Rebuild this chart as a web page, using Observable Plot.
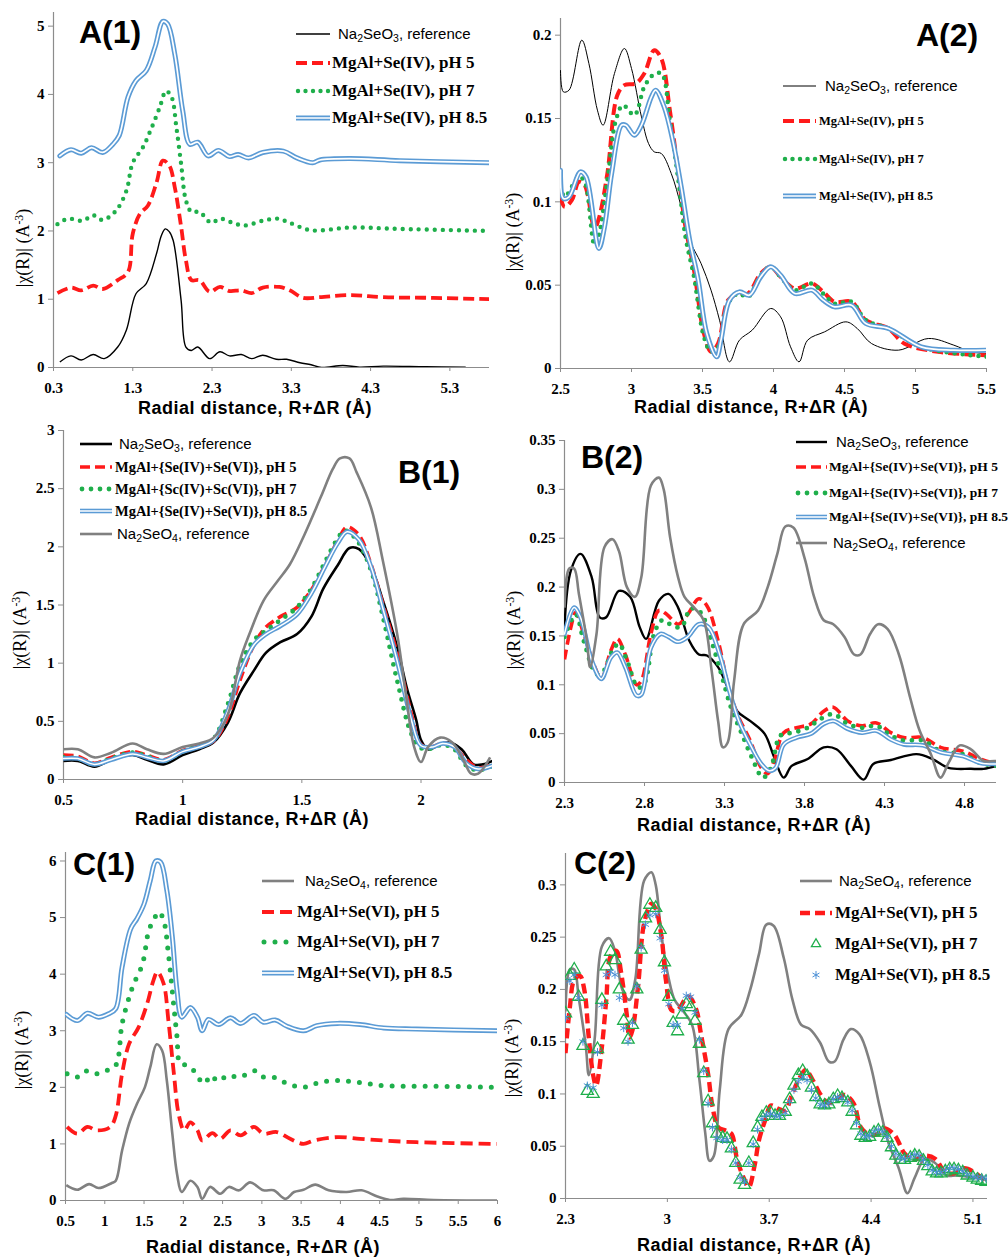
<!DOCTYPE html>
<html><head><meta charset="utf-8">
<script src="https://cdn.jsdelivr.net/npm/d3@7"></script>
<script src="https://cdn.jsdelivr.net/npm/@observablehq/plot@0.6"></script>
<style>
html,body{margin:0;padding:0;background:#fff;}
#root{position:relative;width:1008px;height:1257px;overflow:hidden;background:#fff;}
.panel{position:absolute;}
.panel svg{overflow:visible;}
.panel svg text{font-weight:bold;}
.abs{position:absolute;white-space:nowrap;}
sub{font-size:70%;vertical-align:-0.25em;line-height:0;}
sup{font-size:65%;vertical-align:0.55em;line-height:0;}
</style>
</head><body><div id="root"></div>
<script>
// ---------------- DATA ----------------
// A(1): MgAl+Se(IV), curves offset as drawn
const a1XTicks = [0.3,1.3,2.3,3.3,4.3,5.3];
const a1YTicks = [0,1,2,3,4,5];
const a1Na2SeO3 = [[0.38,0.08],[0.52,0.17],[0.65,0.11],[0.8,0.19],[0.94,0.13],[1.11,0.30],[1.22,0.55],[1.34,1.08],[1.47,1.23],[1.6,1.67],[1.66,1.93],[1.71,2.03],[1.76,1.99],[1.81,1.86],[1.91,0.98],[1.97,0.30],[2.04,0.25],[2.12,0.30],[2.27,0.13],[2.4,0.23],[2.52,0.17],[2.67,0.19],[2.8,0.13],[2.94,0.18],[3.11,0.12],[3.24,0.12],[3.41,0.07],[3.55,0.04],[3.68,0.0],[3.95,0.03],[4.16,0.005],[4.46,0.02],[5.0,0.01],[5.5,0.005]];
const a1pH5 = [[0.35,1.09],[0.52,1.17],[0.65,1.13],[0.8,1.20],[0.92,1.15],[1.11,1.28],[1.24,1.40],[1.30,1.96],[1.39,2.25],[1.49,2.37],[1.6,2.71],[1.68,3.03],[1.76,2.96],[1.83,2.64],[1.91,2.06],[1.97,1.57],[2.04,1.28],[2.14,1.28],[2.27,1.11],[2.4,1.18],[2.52,1.12],[2.67,1.13],[2.8,1.09],[2.94,1.17],[3.15,1.18],[3.28,1.13],[3.45,1.02],[3.66,1.03],[4.04,1.06],[4.46,1.03],[5.09,1.02],[5.8,1.0]];
const a1pH7 = [[0.35,2.1],[0.48,2.18],[0.67,2.15],[0.8,2.23],[0.92,2.16],[1.09,2.30],[1.22,2.59],[1.30,3.0],[1.43,3.23],[1.53,3.49],[1.64,3.81],[1.72,4.05],[1.79,3.96],[1.85,3.52],[1.91,2.98],[1.97,2.45],[2.04,2.28],[2.14,2.28],[2.29,2.12],[2.4,2.18],[2.56,2.12],[2.71,2.08],[2.94,2.15],[3.13,2.18],[3.28,2.12],[3.55,2.01],[4.04,2.05],[4.67,2.03],[5.8,2.0]];
const a1pH85 = [[0.38,3.10],[0.52,3.19],[0.65,3.14],[0.78,3.22],[0.92,3.15],[1.05,3.27],[1.13,3.40],[1.24,3.96],[1.34,4.2],[1.47,4.35],[1.58,4.69],[1.68,5.07],[1.74,5.03],[1.83,4.59],[1.93,3.76],[2.02,3.27],[2.12,3.30],[2.25,3.10],[2.38,3.18],[2.52,3.09],[2.63,3.12],[2.76,3.07],[2.94,3.15],[3.2,3.17],[3.37,3.07],[3.57,3.0],[3.66,3.04],[4.04,3.06],[4.67,3.03],[5.8,3.0]];

// A(2)
const a2XTicks = [2.5,3,3.5,4,4.5,5,5.5];
const a2YTicks = [0,0.05,0.1,0.15,0.2];
const a2Na2SeO3 = [[2.5,0.179],[2.52,0.166],[2.56,0.167],[2.65,0.197],[2.70,0.183],[2.76,0.155],[2.80,0.146],[2.88,0.177],[2.95,0.192],[3.0,0.18],[3.07,0.151],[3.12,0.135],[3.16,0.13],[3.21,0.129],[3.28,0.117],[3.35,0.097],[3.41,0.077],[3.49,0.063],[3.56,0.047],[3.62,0.029],[3.69,0.004],[3.76,0.017],[3.85,0.023],[3.98,0.036],[4.05,0.031],[4.12,0.013],[4.18,0.004],[4.24,0.017],[4.36,0.022],[4.51,0.028],[4.59,0.024],[4.69,0.015],[4.88,0.011],[5.09,0.018],[5.27,0.014],[5.39,0.01],[5.5,0.009]];
const a2pH5 = [[2.5,0.103],[2.53,0.097],[2.58,0.101],[2.63,0.112],[2.67,0.11],[2.74,0.084],[2.77,0.09],[2.83,0.117],[2.9,0.164],[2.95,0.17],[3.03,0.171],[3.09,0.177],[3.16,0.191],[3.21,0.186],[3.27,0.155],[3.33,0.117],[3.38,0.085],[3.44,0.059],[3.51,0.021],[3.56,0.01],[3.61,0.015],[3.68,0.041],[3.75,0.045],[3.82,0.045],[3.91,0.057],[3.98,0.061],[4.05,0.055],[4.15,0.048],[4.27,0.051],[4.35,0.046],[4.43,0.04],[4.55,0.04],[4.65,0.029],[4.81,0.024],[4.92,0.015],[5.16,0.01],[5.5,0.008]];
const a2pH7 = [[2.5,0.109],[2.53,0.103],[2.63,0.115],[2.67,0.112],[2.74,0.074],[2.77,0.08],[2.83,0.113],[2.89,0.149],[2.94,0.158],[3.02,0.152],[3.09,0.169],[3.15,0.176],[3.21,0.177],[3.27,0.149],[3.33,0.113],[3.38,0.079],[3.44,0.055],[3.51,0.019],[3.56,0.01],[3.61,0.013],[3.68,0.039],[3.75,0.045],[3.82,0.043],[3.91,0.056],[3.98,0.061],[4.05,0.055],[4.15,0.047],[4.27,0.051],[4.35,0.045],[4.43,0.039],[4.55,0.04],[4.65,0.029],[4.81,0.024],[5.04,0.013],[5.5,0.007]];
const a2pH85 = [[2.5,0.119],[2.52,0.102],[2.56,0.103],[2.64,0.118],[2.68,0.115],[2.77,0.072],[2.81,0.085],[2.86,0.117],[2.93,0.146],[2.96,0.146],[3.02,0.14],[3.07,0.146],[3.14,0.163],[3.17,0.167],[3.23,0.157],[3.29,0.137],[3.35,0.109],[3.41,0.077],[3.47,0.053],[3.53,0.021],[3.6,0.007],[3.63,0.017],[3.69,0.041],[3.76,0.046],[3.83,0.044],[3.91,0.055],[3.98,0.061],[4.05,0.056],[4.15,0.045],[4.27,0.047],[4.35,0.041],[4.43,0.037],[4.55,0.038],[4.65,0.027],[4.81,0.024],[5.04,0.013],[5.27,0.011],[5.5,0.011]];

// B(1)
const b1XTicks = [0.5,1,1.5,2];
const b1YTicks = [0,0.5,1,1.5,2,2.5,3];
const b1Na2SeO3 = [[0.5,0.16],[0.56,0.16],[0.63,0.11],[0.7,0.17],[0.79,0.21],[0.85,0.17],[0.92,0.13],[1.0,0.21],[1.07,0.26],[1.13,0.32],[1.19,0.49],[1.24,0.74],[1.30,0.94],[1.35,1.09],[1.41,1.18],[1.48,1.25],[1.54,1.40],[1.59,1.64],[1.65,1.84],[1.70,1.99],[1.74,1.98],[1.79,1.83],[1.84,1.54],[1.90,1.14],[1.94,0.79],[1.98,0.51],[2.0,0.34],[2.03,0.26],[2.07,0.29],[2.12,0.32],[2.17,0.26],[2.22,0.13],[2.26,0.13],[2.3,0.16]];
const b1pH5 = [[0.5,0.21],[0.56,0.20],[0.63,0.14],[0.7,0.19],[0.79,0.24],[0.85,0.21],[0.92,0.17],[1.0,0.25],[1.07,0.29],[1.13,0.33],[1.19,0.54],[1.24,0.85],[1.30,1.16],[1.35,1.31],[1.41,1.40],[1.48,1.48],[1.54,1.63],[1.60,1.85],[1.65,2.05],[1.69,2.17],[1.74,2.10],[1.79,1.85],[1.84,1.51],[1.90,1.08],[1.96,0.56],[2.0,0.30],[2.04,0.28],[2.09,0.31],[2.13,0.30],[2.19,0.17],[2.24,0.10],[2.3,0.13]];
const b1pH7 = [[0.5,0.19],[0.56,0.18],[0.63,0.13],[0.7,0.18],[0.79,0.23],[0.85,0.20],[0.92,0.16],[1.0,0.24],[1.07,0.29],[1.13,0.35],[1.19,0.65],[1.24,0.98],[1.30,1.20],[1.35,1.28],[1.41,1.37],[1.48,1.48],[1.54,1.64],[1.60,1.88],[1.65,2.07],[1.68,2.14],[1.73,2.06],[1.79,1.80],[1.84,1.40],[1.90,0.85],[1.96,0.39],[2.0,0.27],[2.05,0.27],[2.09,0.30],[2.14,0.26],[2.19,0.12],[2.24,0.08],[2.3,0.12]];
const b1pH85 = [[0.5,0.18],[0.56,0.18],[0.63,0.13],[0.7,0.17],[0.79,0.22],[0.85,0.19],[0.92,0.16],[1.0,0.24],[1.07,0.28],[1.13,0.34],[1.19,0.59],[1.24,0.91],[1.30,1.16],[1.35,1.25],[1.41,1.32],[1.48,1.42],[1.54,1.60],[1.60,1.84],[1.65,2.03],[1.69,2.13],[1.74,2.06],[1.79,1.83],[1.84,1.47],[1.90,1.02],[1.96,0.51],[2.0,0.29],[2.05,0.28],[2.09,0.31],[2.14,0.28],[2.19,0.14],[2.24,0.09],[2.3,0.12]];
const b1Na2SeO4 = [[0.5,0.26],[0.56,0.26],[0.63,0.19],[0.7,0.23],[0.79,0.31],[0.85,0.26],[0.92,0.22],[1.0,0.28],[1.07,0.31],[1.13,0.36],[1.19,0.56],[1.24,1.02],[1.28,1.25],[1.34,1.54],[1.40,1.71],[1.45,1.85],[1.51,2.10],[1.58,2.43],[1.63,2.67],[1.66,2.76],[1.70,2.76],[1.73,2.64],[1.79,2.34],[1.84,1.88],[1.90,1.25],[1.94,0.68],[1.97,0.29],[2.0,0.15],[2.03,0.28],[2.08,0.36],[2.13,0.32],[2.18,0.16],[2.21,0.05],[2.24,0.05],[2.29,0.19]];

// B(2)
const b2XTicks = [2.3,2.8,3.3,3.8,4.3,4.8];
const b2YTicks = [0,0.05,0.1,0.15,0.2,0.25,0.3,0.35];
const b2Na2SeO3 = [[2.3,0.159],[2.34,0.217],[2.40,0.234],[2.47,0.21],[2.52,0.169],[2.56,0.169],[2.64,0.196],[2.71,0.19],[2.77,0.159],[2.81,0.147],[2.89,0.186],[2.95,0.193],[3.01,0.179],[3.08,0.145],[3.14,0.131],[3.19,0.130],[3.26,0.118],[3.32,0.097],[3.38,0.073],[3.46,0.063],[3.55,0.05],[3.61,0.026],[3.67,0.005],[3.72,0.017],[3.82,0.024],[3.92,0.036],[4.0,0.034],[4.09,0.017],[4.17,0.003],[4.23,0.019],[4.34,0.023],[4.50,0.029],[4.60,0.024],[4.70,0.015],[4.84,0.014],[4.92,0.014],[5.0,0.017]];
const b2pH5 = [[2.3,0.126],[2.34,0.159],[2.37,0.174],[2.42,0.152],[2.49,0.118],[2.53,0.106],[2.59,0.135],[2.63,0.147],[2.68,0.131],[2.75,0.1],[2.78,0.104],[2.84,0.152],[2.89,0.176],[2.94,0.172],[3.01,0.162],[3.07,0.172],[3.14,0.188],[3.19,0.181],[3.26,0.145],[3.32,0.101],[3.38,0.07],[3.46,0.043],[3.53,0.015],[3.57,0.009],[3.61,0.022],[3.67,0.051],[3.75,0.056],[3.84,0.06],[3.92,0.073],[3.98,0.077],[4.07,0.063],[4.16,0.058],[4.25,0.061],[4.34,0.051],[4.42,0.046],[4.54,0.046],[4.65,0.036],[4.79,0.032],[4.90,0.024],[5.0,0.019]];
const b2pH7 = [[2.3,0.149],[2.37,0.172],[2.42,0.145],[2.5,0.111],[2.54,0.113],[2.6,0.135],[2.64,0.142],[2.69,0.125],[2.76,0.097],[2.8,0.102],[2.86,0.152],[2.91,0.166],[2.98,0.16],[3.03,0.159],[3.09,0.178],[3.15,0.174],[3.21,0.149],[3.28,0.111],[3.34,0.077],[3.40,0.053],[3.47,0.026],[3.54,0.005],[3.59,0.015],[3.65,0.048],[3.73,0.051],[3.82,0.056],[3.9,0.065],[3.98,0.07],[4.07,0.06],[4.16,0.056],[4.25,0.058],[4.34,0.048],[4.42,0.043],[4.54,0.043],[4.65,0.032],[4.79,0.029],[4.90,0.02],[5.0,0.017]];
const b2pH85 = [[2.3,0.152],[2.36,0.179],[2.4,0.169],[2.47,0.125],[2.53,0.106],[2.59,0.128],[2.63,0.133],[2.68,0.118],[2.75,0.089],[2.78,0.09],[2.84,0.138],[2.9,0.152],[2.95,0.149],[3.01,0.144],[3.07,0.149],[3.14,0.162],[3.2,0.159],[3.27,0.131],[3.33,0.094],[3.39,0.063],[3.46,0.039],[3.53,0.019],[3.58,0.012],[3.62,0.015],[3.67,0.039],[3.75,0.046],[3.84,0.05],[3.92,0.06],[3.98,0.063],[4.07,0.055],[4.16,0.051],[4.25,0.053],[4.34,0.044],[4.42,0.039],[4.54,0.038],[4.65,0.031],[4.79,0.027],[4.90,0.02],[5.0,0.019]];
const na2SeO4High = [[2.3,0.179],[2.33,0.219],[2.36,0.219],[2.39,0.193],[2.44,0.145],[2.46,0.118],[2.50,0.152],[2.55,0.241],[2.6,0.249],[2.64,0.237],[2.69,0.2],[2.74,0.19],[2.78,0.21],[2.84,0.304],[2.89,0.312],[2.92,0.3],[2.96,0.251],[3.01,0.21],[3.05,0.19],[3.11,0.179],[3.17,0.166],[3.22,0.114],[3.26,0.063],[3.29,0.036],[3.32,0.041],[3.36,0.104],[3.42,0.162],[3.51,0.176],[3.57,0.2],[3.63,0.234],[3.68,0.262],[3.73,0.261],[3.80,0.23],[3.86,0.19],[3.92,0.166],[3.98,0.162],[4.05,0.149],[4.11,0.131],[4.15,0.131],[4.21,0.152],[4.26,0.162],[4.32,0.157],[4.39,0.131],[4.46,0.087],[4.52,0.053],[4.59,0.029],[4.65,0.005],[4.70,0.02],[4.77,0.038],[4.84,0.034],[4.92,0.022],[4.99,0.022],[5.1,0.02],[5.2,0.018]];

// C(1): MgAl+Se(VI), curves offset as drawn
const c1XTicks = [0.5,1,1.5,2,2.5,3,3.5,4,4.5,5,5.5,6];
const c1YTicks = [0,1,2,3,4,5,6];
const c1Na2SeO4 = [[0.51,0.27],[0.65,0.19],[0.8,0.29],[0.92,0.22],[1.09,0.31],[1.14,0.35],[1.22,0.88],[1.31,1.36],[1.41,1.71],[1.51,2.0],[1.58,2.36],[1.66,2.76],[1.73,2.65],[1.79,2.12],[1.86,1.18],[1.92,0.47],[1.98,0.15],[2.09,0.35],[2.18,0.24],[2.24,0.03],[2.34,0.24],[2.47,0.12],[2.58,0.24],[2.71,0.18],[2.85,0.32],[3.02,0.18],[3.15,0.18],[3.30,0.03],[3.41,0.15],[3.53,0.19],[3.68,0.28],[3.85,0.18],[4.08,0.15],[4.27,0.18],[4.47,0.07],[4.63,0.01],[4.8,0.03],[5.19,0.01],[6.0,0.0]];
const c1pH5 = [[0.52,1.30],[0.65,1.18],[0.78,1.30],[0.9,1.24],[1.07,1.30],[1.14,1.50],[1.22,2.24],[1.31,2.77],[1.43,3.06],[1.54,3.48],[1.62,3.89],[1.67,4.04],[1.75,3.83],[1.81,3.18],[1.88,2.24],[1.94,1.53],[2.01,1.24],[2.09,1.38],[2.18,1.24],[2.24,1.06],[2.37,1.19],[2.47,1.09],[2.6,1.24],[2.73,1.15],[2.9,1.30],[3.02,1.18],[3.19,1.21],[3.36,1.09],[3.53,1.0],[3.66,1.06],[3.96,1.12],[4.25,1.09],[4.55,1.06],[4.97,1.03],[6.0,1.0]];
const c1pH7 = [[0.52,2.24],[0.65,2.18],[0.77,2.29],[0.9,2.24],[1.03,2.30],[1.14,2.39],[1.22,3.12],[1.31,3.59],[1.37,3.83],[1.48,4.18],[1.56,4.77],[1.62,4.95],[1.69,5.10],[1.75,4.95],[1.81,4.36],[1.88,3.42],[1.92,2.89],[1.96,2.42],[2.05,2.39],[2.13,2.30],[2.22,2.12],[2.28,2.07],[2.34,2.21],[2.45,2.11],[2.56,2.21],[2.71,2.18],[2.92,2.29],[3.02,2.18],[3.17,2.17],[3.32,2.07],[3.53,2.0],[3.74,2.09],[3.96,2.12],[4.21,2.09],[4.55,2.03],[5.19,2.02],[6.0,2.0]];
const c1pH85 = [[0.51,3.29],[0.65,3.18],[0.78,3.31],[0.92,3.24],[1.05,3.30],[1.14,3.39],[1.22,4.12],[1.33,4.80],[1.41,4.98],[1.50,5.24],[1.58,5.66],[1.65,6.0],[1.71,5.98],[1.79,5.48],[1.86,4.66],[1.92,3.71],[1.98,3.24],[2.09,3.41],[2.18,3.24],[2.24,3.0],[2.32,3.20],[2.45,3.11],[2.6,3.23],[2.73,3.13],[2.9,3.27],[3.02,3.15],[3.17,3.19],[3.32,3.08],[3.53,3.0],[3.70,3.09],[3.96,3.13],[4.25,3.11],[4.55,3.05],[4.97,3.03],[6.0,3.0]];

// C(2)
const c2XTicks = [2.3,3,3.7,4.4,5.1];
const c2YTicks = [0,0.05,0.1,0.15,0.2,0.25,0.3];
const c2pH5 = [[2.30,0.139],[2.33,0.183],[2.36,0.209],[2.40,0.213],[2.43,0.199],[2.46,0.154],[2.49,0.118],[2.51,0.108],[2.55,0.145],[2.58,0.19],[2.61,0.232],[2.65,0.237],[2.68,0.218],[2.72,0.177],[2.74,0.154],[2.76,0.161],[2.80,0.205],[2.84,0.263],[2.89,0.282],[2.92,0.277],[2.96,0.25],[2.99,0.209],[3.03,0.18],[3.07,0.18],[3.12,0.19],[3.15,0.193],[3.20,0.18],[3.23,0.158],[3.28,0.119],[3.31,0.088],[3.35,0.068],[3.40,0.065],[3.44,0.062],[3.48,0.037],[3.53,0.018],[3.56,0.011],[3.60,0.032],[3.63,0.056],[3.68,0.078],[3.71,0.089],[3.76,0.086],[3.81,0.084],[3.85,0.097],[3.90,0.113],[3.95,0.123],[4.00,0.113],[4.05,0.1],[4.11,0.091],[4.17,0.096],[4.22,0.099],[4.28,0.091],[4.33,0.068],[4.39,0.061],[4.45,0.062],[4.49,0.067],[4.56,0.061],[4.63,0.043],[4.69,0.037],[4.77,0.041],[4.84,0.038],[4.91,0.025],[4.97,0.024],[5.04,0.029],[5.11,0.025],[5.19,0.016]];
const c2R = [2.30,2.33,2.36,2.39,2.42,2.45,2.49,2.52,2.55,2.58,2.61,2.64,2.67,2.70,2.73,2.76,2.79,2.82,2.85,2.88,2.92,2.95,2.98,3.01,3.04,3.07,3.10,3.13,3.16,3.19,3.22,3.25,3.28,3.31,3.34,3.38,3.41,3.44,3.47,3.50,3.53,3.56,3.59,3.62,3.65,3.68,3.71,3.74,3.77,3.81,3.84,3.87,3.90,3.93,3.96,3.99,4.02,4.05,4.08,4.11,4.14,4.17,4.20,4.24,4.27,4.30,4.33,4.36,4.39,4.42,4.45,4.48,4.51,4.54,4.57,4.60,4.63,4.67,4.70,4.73,4.76,4.79,4.82,4.85,4.88,4.91,4.94,4.97,5.00,5.03,5.06,5.10,5.13,5.16,5.19];
const c2pH7 = [0.177,0.213,0.219,0.193,0.146,0.103,0.100,0.143,0.190,0.222,0.236,0.228,0.200,0.170,0.152,0.166,0.200,0.238,0.268,0.281,0.278,0.257,0.226,0.193,0.168,0.160,0.176,0.186,0.183,0.170,0.148,0.120,0.093,0.072,0.062,0.058,0.057,0.048,0.034,0.018,0.013,0.034,0.053,0.068,0.078,0.082,0.082,0.079,0.079,0.083,0.095,0.108,0.118,0.122,0.117,0.106,0.097,0.090,0.089,0.090,0.095,0.098,0.096,0.092,0.083,0.070,0.060,0.058,0.059,0.063,0.065,0.063,0.058,0.049,0.041,0.037,0.037,0.039,0.041,0.040,0.036,0.031,0.026,0.024,0.024,0.026,0.028,0.028,0.027,0.025,0.022,0.020,0.018,0.017,0.016];
const c2pH85 = [0.173,0.208,0.214,0.192,0.150,0.108,0.106,0.140,0.185,0.214,0.217,0.214,0.192,0.163,0.150,0.168,0.203,0.240,0.262,0.271,0.272,0.249,0.218,0.186,0.166,0.166,0.182,0.194,0.193,0.178,0.152,0.122,0.091,0.068,0.058,0.056,0.056,0.047,0.034,0.020,0.016,0.034,0.052,0.066,0.076,0.080,0.081,0.079,0.079,0.082,0.093,0.104,0.112,0.116,0.113,0.104,0.096,0.090,0.089,0.091,0.095,0.097,0.096,0.092,0.084,0.072,0.062,0.059,0.060,0.064,0.066,0.064,0.059,0.050,0.043,0.039,0.038,0.040,0.042,0.041,0.037,0.032,0.027,0.025,0.025,0.027,0.029,0.029,0.028,0.026,0.023,0.021,0.020,0.020,0.019];

// legend labels
const lblSeO3 = "Na<sub>2</sub>SeO<sub>3</sub>, reference";
const lblSeO4 = "Na<sub>2</sub>SeO<sub>4</sub>, reference";
const lblA = ["MgAl+Se(IV), pH 5","MgAl+Se(IV), pH 7","MgAl+Se(IV), pH 8.5"];
const lblB = ["MgAl+{Se(IV)+Se(VI)}, pH 5","MgAl+{Sc(IV)+Sc(VI)}, pH 7","MgAl+{Se(IV)+Se(VI)}, pH 8.5"];
const lblB2 = ["MgAl+{Se(IV)+Se(VI)}, pH 5","MgAl+{Se(IV)+Se(VI)}, pH 7","MgAl+{Se(IV)+Se(VI)}, pH 8.5"];
const lblC = ["MgAl+Se(VI), pH 5","MgAl+Se(VI), pH 7","MgAl+Se(VI), pH 8.5"];

// ---------------- STYLES ----------------
const SANS = "'Liberation Sans', Arial, sans-serif";
const SERIF = "'Liberation Serif', 'Times New Roman', serif";
const RED = "#FF1A1A", GREEN = "#1FAF4B", BLUE = "#5B9BD5", GRAY = "#808080";

function st(kind, opt={}) {
  const base = {
    black: {kind:"solid", color:"#000", w:1.3},
    gray: {kind:"solid", color:GRAY, w:2.6},
    red: {kind:"dash", color:RED, w:3.6, dash:"10,5"},
    green: {kind:"dot", color:GREEN, w:4.2, dash:"0,8"},
    blue: {kind:"double", color:BLUE, w:5, inner:1.7},
    tri: {kind:"tri", color:GREEN},
    ast: {kind:"ast", color:"#4A8FD6"}
  }[kind];
  return {...base, ...opt};
}

function lineMarks(data, s, xAcc, yAcc) {
  const a = {x: xAcc || (d => d[0]), y: yAcc || (d => d[1]), curve: "catmull-rom", clip: true};
  if (s.kind === "double") return [
    Plot.line(data, {...a, stroke: s.color, strokeWidth: s.w}),
    Plot.line(data, {...a, stroke: "#fff", strokeWidth: s.inner})
  ];
  if (s.kind === "tri") return [Plot.dot(data, {x: a.x, y: a.y, symbol: "triangle", r: 4.5, stroke: s.color, strokeWidth: 1.3, fill: "none", clip: true})];
  if (s.kind === "ast") return [Plot.dot(data, {x: a.x, y: a.y, symbol: "asterisk", r: 3.8, stroke: s.color, strokeWidth: 1, clip: true})];
  return [Plot.line(data, {...a, stroke: s.color, strokeWidth: s.w,
    strokeDasharray: s.dash || null, strokeLinecap: s.kind === "dot" ? "round" : "butt"})];
}

function swatch(s, w) {
  const h = 14, y = 7;
  let inner = "";
  if (s.kind === "double") inner = `<line x1="0" y1="${y}" x2="${w}" y2="${y}" stroke="${s.color}" stroke-width="${s.w}"/><line x1="0" y1="${y}" x2="${w}" y2="${y}" stroke="#fff" stroke-width="${s.inner}"/>`;
  else if (s.kind === "tri" || s.kind === "ast") {
    const p = d3.symbol(s.kind === "tri" ? d3.symbolTriangle2 : d3.symbolAsterisk, s.kind === "tri" ? 60 : 45)();
    inner = `<path transform="translate(${w/2},${y})" d="${p}" fill="none" stroke="${s.color}" stroke-width="${s.kind === "tri" ? 1.3 : 1}"/>`;
  } else {
    inner = `<line x1="${s.kind==='dot'?2:0}" y1="${y}" x2="${w}" y2="${y}" stroke="${s.color}" stroke-width="${s.w}" ${s.dash?`stroke-dasharray="${s.dash}"`:""} stroke-linecap="${s.kind==='dot'?'round':'butt'}"/>`;
  }
  return `<svg width="${w}" height="${h}" style="overflow:visible">${inner}</svg>`;
}

function addText(parent, html, o) {
  const d = document.createElement("div");
  d.className = "abs";
  d.innerHTML = html;
  const L = Math.round(o.size * 1.2);
  Object.assign(d.style, {fontFamily: o.family, fontSize: o.size + "px", fontWeight: o.weight || "normal",
    lineHeight: L + "px", color: "#000", letterSpacing: o.ls || "normal"});
  if (o.rotate) {
    Object.assign(d.style, {left: o.cx + "px", top: o.cy + "px", transform: "translate(-50%,-50%) rotate(-90deg)"});
  } else if (o.center) {
    Object.assign(d.style, {left: o.cx + "px", top: (o.cy - L/2) + "px", transform: "translateX(-50%)"});
  } else {
    Object.assign(d.style, {left: o.x + "px", top: (o.cy - L/2) + "px"});
  }
  parent.appendChild(d);
}

// ---------------- PANELS ----------------
const panels = [
  {left:0, top:0, w:504, h:420, m:[12,15,53,53], xd:[0.3,5.8], yd:[0,5.2], xt:a1XTicks, yt:a1YTicks,
   series:[[a1Na2SeO3, st("black",{w:1.4})],[a1pH5, st("red",{w:3.8,dash:"11,5"})],[a1pH7, st("green",{w:4.4,dash:"0,8"})],[a1pH85, st("blue",{w:5,inner:1.7})]],
   title:{t:"A(1)", x:79, cy:32}, xl:{cx:255, cy:408}, yl:{cx:23, cy:248},
   leg:{x0:296, w:34, rows:[[lblSeO3, st("black",{w:1.4}), 34, 338, "sans", 15],[lblA[0], st("red",{w:3.8,dash:"11,5"}), 63, 332, "serif", 17],[lblA[1], st("green",{w:4.4,dash:"0,7.5"}), 91, 332, "serif", 17],[lblA[2], st("blue",{w:5,inner:1.7}), 118, 332, "serif", 17]]}},
  {left:504, top:0, w:504, h:420, m:[18,22,52,56], xd:[2.5,5.5], yd:[0,0.21], xt:a2XTicks, yt:a2YTicks,
   series:[[a2Na2SeO3, st("black",{w:1})],[a2pH5, st("red",{w:4,dash:"11,5"})],[a2pH7, st("green",{w:4.5,dash:"0,8"})],[a2pH85, st("blue",{w:5,inner:1.7})]],
   title:{t:"A(2)", x:412, cy:35}, xl:{cx:247, cy:407}, yl:{cx:9, cy:232},
   leg:{x0:279, w:33, rows:[[lblSeO3, st("black",{w:1}), 86, 321, "sans", 15],[lblA[0], st("red",{w:4,dash:"11,5"}), 121, 315, "serif", 12.5],[lblA[1], st("green",{w:4.5,dash:"0,7.5"}), 159, 315, "serif", 12.5],[lblA[2], st("blue",{w:5,inner:1.7}), 196, 315, "serif", 12.5]]}},
  {left:0, top:420, w:504, h:420, m:[10,12,61,63], xd:[0.5,2.3], yd:[0,3], xt:b1XTicks, yt:b1YTicks,
   series:[[b1Na2SeO3, st("black",{w:2.6})],[b1pH5, st("red",{w:3.6,dash:"10,5"})],[b1pH7, st("green",{w:4.8,dash:"0,9"})],[b1pH85, st("blue",{w:4.6,inner:1.5})],[b1Na2SeO4, st("gray",{w:2.6})]],
   title:{t:"B(1)", x:398, cy:52}, xl:{cx:252, cy:399}, yl:{cx:20, cy:210},
   leg:{x0:80, w:32, rows:[[lblSeO3, st("black",{w:2.6}), 24, 119, "sans", 15],[lblB[0], st("red",{w:3.6,dash:"10,5"}), 47, 115, "serif", 14.5],[lblB[1], st("green",{w:4.8,dash:"0,9"}), 69, 115, "serif", 14.5],[lblB[2], st("blue",{w:4.6,inner:1.5}), 91, 115, "serif", 14.5],[lblSeO4, st("gray",{w:2.6}), 114, 117, "sans", 15]]}},
  {left:504, top:420, w:504, h:420, m:[20,12,58,60], xd:[2.3,5.0], yd:[0,0.35], xt:b2XTicks, yt:b2YTicks,
   series:[[b2Na2SeO3, st("black",{w:2.4})],[b2pH5, st("red",{w:3.6,dash:"10,5"})],[b2pH7, st("green",{w:4.8,dash:"0,9"})],[b2pH85, st("blue",{w:4.6,inner:1.5})],[na2SeO4High, st("gray",{w:2.6})]],
   title:{t:"B(2)", x:77, cy:37}, xl:{cx:250, cy:405}, yl:{cx:10, cy:210},
   leg:{x0:292, w:31, rows:[[lblSeO3, st("black",{w:2.4}), 22, 332, "sans", 15],[lblB2[0], st("red",{w:3.6,dash:"10,5"}), 47, 325, "serif", 13.5],[lblB2[1], st("green",{w:4.8,dash:"0,9"}), 73, 325, "serif", 13.5],[lblB2[2], st("blue",{w:4.6,inner:1.5}), 97, 325, "serif", 13.5],[lblSeO4, st("gray",{w:2.6}), 123, 329, "sans", 15]]}},
  {left:0, top:840, w:504, h:417, m:[12,7,57,65], xd:[0.5,6], yd:[0,6.15], xt:c1XTicks, yt:c1YTicks,
   series:[[c1Na2SeO4, st("gray",{w:2.6})],[c1pH5, st("red",{w:3.8,dash:"12,6"})],[c1pH7, st("green",{w:5,dash:"0,11"})],[c1pH85, st("blue",{w:5,inner:1.7})]],
   title:{t:"C(1)", x:73, cy:24}, xl:{cx:263, cy:407}, yl:{cx:22, cy:210},
   leg:{x0:262, w:32, rows:[[lblSeO4, st("gray",{w:2.6}), 41, 305, "sans", 15],[lblC[0], st("red",{w:3.8,dash:"12,6"}), 72, 297, "serif", 17],[lblC[1], st("green",{w:5,dash:"0,11"}), 102, 297, "serif", 17],[lblC[2], st("blue",{w:5,inner:1.7}), 133, 297, "serif", 17]]}},
  {left:504, top:840, w:504, h:417, m:[13,21,59,61], xd:[2.3,5.2], yd:[0,0.33], xt:c2XTicks, yt:c2YTicks,
   series:[[na2SeO4High, st("gray",{w:2.6})],[c2pH5, st("red",{w:4.4,dash:"10,5"})],
           [c2R.map((r,i)=>[r,c2pH7[i]]), st("tri")],[c2R.map((r,i)=>[r,c2pH85[i]]), st("ast")]],
   title:{t:"C(2)", x:70, cy:23}, xl:{cx:250, cy:405}, yl:{cx:8, cy:218},
   leg:{x0:296, w:32, rows:[[lblSeO4, st("gray",{w:2.6}), 41, 335, "sans", 15],[lblC[0], st("red",{w:4.4,dash:"10,5"}), 73, 331, "serif", 17],[lblC[1], st("tri"), 104, 331, "serif", 17],[lblC[2], st("ast"), 135, 331, "serif", 17]]}}
];

const root = document.getElementById("root");
const fmt = d => String(d);
for (const p of panels) {
  const div = document.createElement("div");
  div.className = "panel";
  Object.assign(div.style, {left: p.left + "px", top: p.top + "px", width: p.w + "px", height: p.h + "px"});
  root.appendChild(div);
  const axFont = {fontFamily: SERIF, fontSize: 15, fontWeight: "bold"};
  const marks = [
    Plot.ruleX([p.xd[0]], {stroke: "#8c8c8c", strokeWidth: 1.2}),
    Plot.ruleY([p.yd[0]], {stroke: "#8c8c8c", strokeWidth: 1.2}),
    Plot.axisX({ticks: p.xt, tickFormat: fmt, tickSize: 4, tickPadding: 11, stroke: "#8c8c8c", fill: "#000", label: null, ...axFont}),
    Plot.axisY({ticks: p.yt, tickFormat: fmt, tickSize: 5, tickPadding: 4, stroke: "#8c8c8c", fill: "#000", label: null, ...axFont})
  ];
  for (const [data, s] of p.series) marks.push(...lineMarks(data, s));
  const chart = Plot.plot({
    width: p.w, height: p.h,
    marginTop: p.m[0], marginRight: p.m[1], marginBottom: p.m[2], marginLeft: p.m[3],
    x: {domain: p.xd}, y: {domain: p.yd},
    style: {fontFamily: SERIF, fontSize: "15px", fontWeight: "bold", background: "transparent", color: "#000", overflow: "visible"},
    marks
  });
  div.appendChild(chart);
  addText(div, p.title.t, {x: p.title.x, cy: p.title.cy, size: 32, family: SANS, weight: "bold"});
  addText(div, "Radial distance, R+ΔR (Å)", {center: true, cx: p.xl.cx, cy: p.xl.cy, size: 18, family: SANS, weight: "bold", ls: "0.5px"});
  addText(div, "|χ(R)| (A<sup>-3</sup>)", {rotate: true, cx: p.yl.cx, cy: p.yl.cy, size: 18, family: SERIF});
  for (const [label, s, cy, tx, fam, size] of p.leg.rows) {
    const sw = document.createElement("div");
    sw.className = "abs";
    sw.innerHTML = swatch(s, p.leg.w);
    Object.assign(sw.style, {left: p.leg.x0 + "px", top: (cy - 7) + "px", lineHeight: 0});
    div.appendChild(sw);
    addText(div, label, {x: tx, cy, size, family: fam === "sans" ? SANS : SERIF, weight: fam === "sans" ? "normal" : "bold"});
  }
}
</script></body></html>
